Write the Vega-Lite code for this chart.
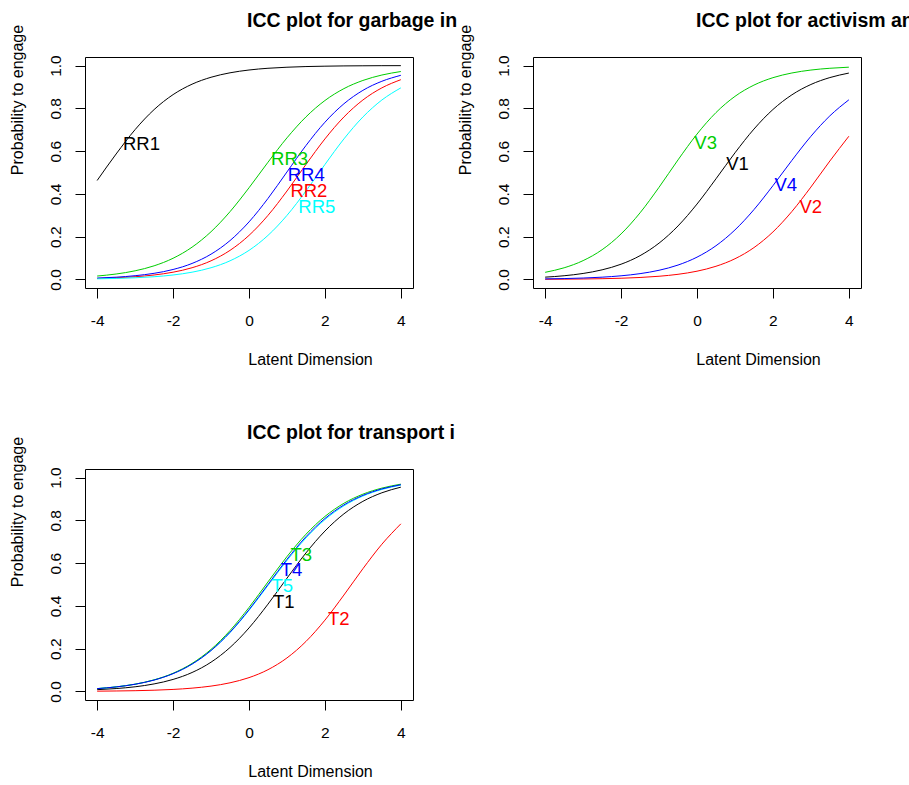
{
  "$schema": "https://vega.github.io/schema/vega-lite/v6.json",
  "padding": {"left": 8, "top": 10, "right": 0, "bottom": 0},
  "background": "white",
  "config": {
    "font": "Liberation Sans",
    "view": {"stroke": "black", "strokeWidth": 1},
    "axis": {"grid": false, "domain": false, "tickColor": "black", "tickSize": 10, "tickWidth": 1, "labelColor": "black", "labelFont": "Liberation Sans", "labelFontSize": 15.5, "titleFont": "Liberation Sans", "titleFontSize": 16, "titleFontWeight": "normal", "titleColor": "black", "labelOverlap": false, "labelFlush": false}
  },
  "datasets": {
    "curves": [
      {"pn":"g","id":"RR1","x":-4,"p":0.4626},{"pn":"g","id":"RR1","x":-3.5,"p":0.5866},{"pn":"g","id":"RR1","x":-3,"p":0.7006},{"pn":"g","id":"RR1","x":-2.5,"p":0.7941},{"pn":"g","id":"RR1","x":-2,"p":0.8641},{"pn":"g","id":"RR1","x":-1.5,"p":0.9129},{"pn":"g","id":"RR1","x":-1,"p":0.9453},{"pn":"g","id":"RR1","x":-0.5,"p":0.9661},{"pn":"g","id":"RR1","x":0,"p":0.9792},{"pn":"g","id":"RR1","x":0.5,"p":0.9873},{"pn":"g","id":"RR1","x":1,"p":0.9922},{"pn":"g","id":"RR1","x":1.5,"p":0.9953},{"pn":"g","id":"RR1","x":2,"p":0.9971},{"pn":"g","id":"RR1","x":2.5,"p":0.9983},{"pn":"g","id":"RR1","x":3,"p":0.9989},{"pn":"g","id":"RR1","x":3.5,"p":0.9994},{"pn":"g","id":"RR1","x":4,"p":0.9996},
      {"pn":"g","id":"RR2","x":-4,"p":0.0047},{"pn":"g","id":"RR2","x":-3.5,"p":0.0078},{"pn":"g","id":"RR2","x":-3,"p":0.0127},{"pn":"g","id":"RR2","x":-2.5,"p":0.0208},{"pn":"g","id":"RR2","x":-2,"p":0.0339},{"pn":"g","id":"RR2","x":-1.5,"p":0.0547},{"pn":"g","id":"RR2","x":-1,"p":0.0871},{"pn":"g","id":"RR2","x":-0.5,"p":0.1359},{"pn":"g","id":"RR2","x":0,"p":0.2059},{"pn":"g","id":"RR2","x":0.5,"p":0.2994},{"pn":"g","id":"RR2","x":1,"p":0.4134},{"pn":"g","id":"RR2","x":1.5,"p":0.5374},{"pn":"g","id":"RR2","x":2,"p":0.657},{"pn":"g","id":"RR2","x":2.5,"p":0.7595},{"pn":"g","id":"RR2","x":3,"p":0.8389},{"pn":"g","id":"RR2","x":3.5,"p":0.8957},{"pn":"g","id":"RR2","x":4,"p":0.934},
      {"pn":"g","id":"RR3","x":-4,"p":0.0159},{"pn":"g","id":"RR3","x":-3.5,"p":0.0254},{"pn":"g","id":"RR3","x":-3,"p":0.0404},{"pn":"g","id":"RR3","x":-2.5,"p":0.0637},{"pn":"g","id":"RR3","x":-2,"p":0.099},{"pn":"g","id":"RR3","x":-1.5,"p":0.1509},{"pn":"g","id":"RR3","x":-1,"p":0.2231},{"pn":"g","id":"RR3","x":-0.5,"p":0.3169},{"pn":"g","id":"RR3","x":0,"p":0.4285},{"pn":"g","id":"RR3","x":0.5,"p":0.5479},{"pn":"g","id":"RR3","x":1,"p":0.6619},{"pn":"g","id":"RR3","x":1.5,"p":0.7599},{"pn":"g","id":"RR3","x":2,"p":0.8365},{"pn":"g","id":"RR3","x":2.5,"p":0.8921},{"pn":"g","id":"RR3","x":3,"p":0.9303},{"pn":"g","id":"RR3","x":3.5,"p":0.9557},{"pn":"g","id":"RR3","x":4,"p":0.9721},
      {"pn":"g","id":"RR4","x":-4,"p":0.0064},{"pn":"g","id":"RR4","x":-3.5,"p":0.0106},{"pn":"g","id":"RR4","x":-3,"p":0.0175},{"pn":"g","id":"RR4","x":-2.5,"p":0.0286},{"pn":"g","id":"RR4","x":-2,"p":0.0465},{"pn":"g","id":"RR4","x":-1.5,"p":0.0748},{"pn":"g","id":"RR4","x":-1,"p":0.1182},{"pn":"g","id":"RR4","x":-0.5,"p":0.1817},{"pn":"g","id":"RR4","x":0,"p":0.2689},{"pn":"g","id":"RR4","x":0.5,"p":0.3787},{"pn":"g","id":"RR4","x":1,"p":0.5025},{"pn":"g","id":"RR4","x":1.5,"p":0.626},{"pn":"g","id":"RR4","x":2,"p":0.735},{"pn":"g","id":"RR4","x":2.5,"p":0.8213},{"pn":"g","id":"RR4","x":3,"p":0.884},{"pn":"g","id":"RR4","x":3.5,"p":0.9265},{"pn":"g","id":"RR4","x":4,"p":0.9544},
      {"pn":"g","id":"RR5","x":-4,"p":0.0029},{"pn":"g","id":"RR5","x":-3.5,"p":0.0047},{"pn":"g","id":"RR5","x":-3,"p":0.0078},{"pn":"g","id":"RR5","x":-2.5,"p":0.0127},{"pn":"g","id":"RR5","x":-2,"p":0.0208},{"pn":"g","id":"RR5","x":-1.5,"p":0.0339},{"pn":"g","id":"RR5","x":-1,"p":0.0547},{"pn":"g","id":"RR5","x":-0.5,"p":0.0871},{"pn":"g","id":"RR5","x":0,"p":0.1359},{"pn":"g","id":"RR5","x":0.5,"p":0.2059},{"pn":"g","id":"RR5","x":1,"p":0.2994},{"pn":"g","id":"RR5","x":1.5,"p":0.4134},{"pn":"g","id":"RR5","x":2,"p":0.5374},{"pn":"g","id":"RR5","x":2.5,"p":0.657},{"pn":"g","id":"RR5","x":3,"p":0.7595},{"pn":"g","id":"RR5","x":3.5,"p":0.8389},{"pn":"g","id":"RR5","x":4,"p":0.8957},
      {"pn":"a","id":"V1","x":-4,"p":0.0107},{"pn":"a","id":"V1","x":-3.5,"p":0.0173},{"pn":"a","id":"V1","x":-3,"p":0.028},{"pn":"a","id":"V1","x":-2.5,"p":0.0449},{"pn":"a","id":"V1","x":-2,"p":0.0712},{"pn":"a","id":"V1","x":-1.5,"p":0.1112},{"pn":"a","id":"V1","x":-1,"p":0.1697},{"pn":"a","id":"V1","x":-0.5,"p":0.2501},{"pn":"a","id":"V1","x":0,"p":0.3525},{"pn":"a","id":"V1","x":0.5,"p":0.4705},{"pn":"a","id":"V1","x":1,"p":0.5919},{"pn":"a","id":"V1","x":1.5,"p":0.703},{"pn":"a","id":"V1","x":2,"p":0.7945},{"pn":"a","id":"V1","x":2.5,"p":0.8632},{"pn":"a","id":"V1","x":3,"p":0.9115},{"pn":"a","id":"V1","x":3.5,"p":0.9438},{"pn":"a","id":"V1","x":4,"p":0.9649},
      {"pn":"a","id":"V2","x":-4,"p":0.0008},{"pn":"a","id":"V2","x":-3.5,"p":0.0013},{"pn":"a","id":"V2","x":-3,"p":0.0021},{"pn":"a","id":"V2","x":-2.5,"p":0.0035},{"pn":"a","id":"V2","x":-2,"p":0.0056},{"pn":"a","id":"V2","x":-1.5,"p":0.0092},{"pn":"a","id":"V2","x":-1,"p":0.0149},{"pn":"a","id":"V2","x":-0.5,"p":0.024},{"pn":"a","id":"V2","x":0,"p":0.0386},{"pn":"a","id":"V2","x":0.5,"p":0.0616},{"pn":"a","id":"V2","x":1,"p":0.0967},{"pn":"a","id":"V2","x":1.5,"p":0.1488},{"pn":"a","id":"V2","x":2,"p":0.222},{"pn":"a","id":"V2","x":2.5,"p":0.3178},{"pn":"a","id":"V2","x":3,"p":0.4319},{"pn":"a","id":"V2","x":3.5,"p":0.5538},{"pn":"a","id":"V2","x":4,"p":0.6695},
      {"pn":"a","id":"V3","x":-4,"p":0.0333},{"pn":"a","id":"V3","x":-3.5,"p":0.0545},{"pn":"a","id":"V3","x":-3,"p":0.088},{"pn":"a","id":"V3","x":-2.5,"p":0.139},{"pn":"a","id":"V3","x":-2,"p":0.2128},{"pn":"a","id":"V3","x":-1.5,"p":0.3115},{"pn":"a","id":"V3","x":-1,"p":0.4309},{"pn":"a","id":"V3","x":-0.5,"p":0.559},{"pn":"a","id":"V3","x":0,"p":0.6796},{"pn":"a","id":"V3","x":0.5,"p":0.7802},{"pn":"a","id":"V3","x":1,"p":0.8559},{"pn":"a","id":"V3","x":1.5,"p":0.9086},{"pn":"a","id":"V3","x":2,"p":0.9433},{"pn":"a","id":"V3","x":2.5,"p":0.9653},{"pn":"a","id":"V3","x":3,"p":0.979},{"pn":"a","id":"V3","x":3.5,"p":0.9873},{"pn":"a","id":"V3","x":4,"p":0.9924},
      {"pn":"a","id":"V4","x":-4,"p":0.0026},{"pn":"a","id":"V4","x":-3.5,"p":0.0041},{"pn":"a","id":"V4","x":-3,"p":0.0066},{"pn":"a","id":"V4","x":-2.5,"p":0.0106},{"pn":"a","id":"V4","x":-2,"p":0.017},{"pn":"a","id":"V4","x":-1.5,"p":0.0271},{"pn":"a","id":"V4","x":-1,"p":0.0429},{"pn":"a","id":"V4","x":-0.5,"p":0.0673},{"pn":"a","id":"V4","x":0,"p":0.1042},{"pn":"a","id":"V4","x":0.5,"p":0.1576},{"pn":"a","id":"V4","x":1,"p":0.2315},{"pn":"a","id":"V4","x":1.5,"p":0.3265},{"pn":"a","id":"V4","x":2,"p":0.4383},{"pn":"a","id":"V4","x":2.5,"p":0.5568},{"pn":"a","id":"V4","x":3,"p":0.6691},{"pn":"a","id":"V4","x":3.5,"p":0.7649},{"pn":"a","id":"V4","x":4,"p":0.8397},
      {"pn":"t","id":"T1","x":-4,"p":0.0083},{"pn":"t","id":"T1","x":-3.5,"p":0.0135},{"pn":"t","id":"T1","x":-3,"p":0.0218},{"pn":"t","id":"T1","x":-2.5,"p":0.0352},{"pn":"t","id":"T1","x":-2,"p":0.0562},{"pn":"t","id":"T1","x":-1.5,"p":0.0885},{"pn":"t","id":"T1","x":-1,"p":0.1368},{"pn":"t","id":"T1","x":-0.5,"p":0.2055},{"pn":"t","id":"T1","x":0,"p":0.2969},{"pn":"t","id":"T1","x":0.5,"p":0.4081},{"pn":"t","id":"T1","x":1,"p":0.5294},{"pn":"t","id":"T1","x":1.5,"p":0.6475},{"pn":"t","id":"T1","x":2,"p":0.7498},{"pn":"t","id":"T1","x":2.5,"p":0.8303},{"pn":"t","id":"T1","x":3,"p":0.8887},{"pn":"t","id":"T1","x":3.5,"p":0.9288},{"pn":"t","id":"T1","x":4,"p":0.9551},
      {"pn":"t","id":"T2","x":-4,"p":0.0013},{"pn":"t","id":"T2","x":-3.5,"p":0.0022},{"pn":"t","id":"T2","x":-3,"p":0.0035},{"pn":"t","id":"T2","x":-2.5,"p":0.0058},{"pn":"t","id":"T2","x":-2,"p":0.0094},{"pn":"t","id":"T2","x":-1.5,"p":0.0154},{"pn":"t","id":"T2","x":-1,"p":0.025},{"pn":"t","id":"T2","x":-0.5,"p":0.0404},{"pn":"t","id":"T2","x":0,"p":0.0646},{"pn":"t","id":"T2","x":0.5,"p":0.1017},{"pn":"t","id":"T2","x":1,"p":0.1567},{"pn":"t","id":"T2","x":1.5,"p":0.2336},{"pn":"t","id":"T2","x":2,"p":0.3333},{"pn":"t","id":"T2","x":2.5,"p":0.4507},{"pn":"t","id":"T2","x":3,"p":0.5737},{"pn":"t","id":"T2","x":3.5,"p":0.6882},{"pn":"t","id":"T2","x":4,"p":0.7836},
      {"pn":"t","id":"T5","x":-4,"p":0.0135},{"pn":"t","id":"T5","x":-3.5,"p":0.0215},{"pn":"t","id":"T5","x":-3,"p":0.0341},{"pn":"t","id":"T5","x":-2.5,"p":0.0537},{"pn":"t","id":"T5","x":-2,"p":0.0836},{"pn":"t","id":"T5","x":-1.5,"p":0.128},{"pn":"t","id":"T5","x":-1,"p":0.1909},{"pn":"t","id":"T5","x":-0.5,"p":0.2751},{"pn":"t","id":"T5","x":0,"p":0.3789},{"pn":"t","id":"T5","x":0.5,"p":0.4953},{"pn":"t","id":"T5","x":1,"p":0.612},{"pn":"t","id":"T5","x":1.5,"p":0.7173},{"pn":"t","id":"T5","x":2,"p":0.8032},{"pn":"t","id":"T5","x":2.5,"p":0.8677},{"pn":"t","id":"T5","x":3,"p":0.9134},{"pn":"t","id":"T5","x":3.5,"p":0.9443},{"pn":"t","id":"T5","x":4,"p":0.9646},
      {"pn":"t","id":"T3","x":-4,"p":0.0132},{"pn":"t","id":"T3","x":-3.5,"p":0.0212},{"pn":"t","id":"T3","x":-3,"p":0.034},{"pn":"t","id":"T3","x":-2.5,"p":0.0541},{"pn":"t","id":"T3","x":-2,"p":0.085},{"pn":"t","id":"T3","x":-1.5,"p":0.131},{"pn":"t","id":"T3","x":-1,"p":0.1967},{"pn":"t","id":"T3","x":-0.5,"p":0.2846},{"pn":"t","id":"T3","x":0,"p":0.3925},{"pn":"t","id":"T3","x":0.5,"p":0.5121},{"pn":"t","id":"T3","x":1,"p":0.6304},{"pn":"t","id":"T3","x":1.5,"p":0.7348},{"pn":"t","id":"T3","x":2,"p":0.8182},{"pn":"t","id":"T3","x":2.5,"p":0.8797},{"pn":"t","id":"T3","x":3,"p":0.9223},{"pn":"t","id":"T3","x":3.5,"p":0.9507},{"pn":"t","id":"T3","x":4,"p":0.9691},
      {"pn":"t","id":"T4","x":-4,"p":0.0131},{"pn":"t","id":"T4","x":-3.5,"p":0.0211},{"pn":"t","id":"T4","x":-3,"p":0.0336},{"pn":"t","id":"T4","x":-2.5,"p":0.0532},{"pn":"t","id":"T4","x":-2,"p":0.0832},{"pn":"t","id":"T4","x":-1.5,"p":0.1279},{"pn":"t","id":"T4","x":-1,"p":0.1915},{"pn":"t","id":"T4","x":-0.5,"p":0.2769},{"pn":"t","id":"T4","x":0,"p":0.3822},{"pn":"t","id":"T4","x":0.5,"p":0.5},{"pn":"t","id":"T4","x":1,"p":0.6178},{"pn":"t","id":"T4","x":1.5,"p":0.7231},{"pn":"t","id":"T4","x":2,"p":0.8085},{"pn":"t","id":"T4","x":2.5,"p":0.8721},{"pn":"t","id":"T4","x":3,"p":0.9168},{"pn":"t","id":"T4","x":3.5,"p":0.9468},{"pn":"t","id":"T4","x":4,"p":0.9664}
    ],
    "labels": [
      {"pn":"g","id":"RR1","x":-3.32,"p":0.635},
      {"pn":"g","id":"RR3","x":0.58,"p":0.563},
      {"pn":"g","id":"RR4","x":1.02,"p":0.487},
      {"pn":"g","id":"RR2","x":1.09,"p":0.415},
      {"pn":"g","id":"RR5","x":1.30,"p":0.34},
      {"pn":"a","id":"V3","x":-0.07,"p":0.638},
      {"pn":"a","id":"V1","x":0.77,"p":0.54},
      {"pn":"a","id":"V4","x":2.04,"p":0.44},
      {"pn":"a","id":"V2","x":2.70,"p":0.338},
      {"pn":"t","id":"T3","x":1.09,"p":0.64},
      {"pn":"t","id":"T4","x":0.835,"p":0.566},
      {"pn":"t","id":"T5","x":0.59,"p":0.492},
      {"pn":"t","id":"T1","x":0.63,"p":0.417},
      {"pn":"t","id":"T2","x":2.08,"p":0.341}
    ]
  },
  "bounds": "flush",
  "columns": 2,
  "spacing": {"row": 181, "column": 120},
  "concat": [
    {
      "width": 328, "height": 231,
      "title": {"text": "ICC plot for garbage in", "frame": "group", "anchor": "start", "dx": 162, "fontSize": 19.5, "fontWeight": "bold", "font": "Liberation Sans", "color": "black", "offset": -7},
      "layer": [
        {
          "data": {"name": "curves"},
          "transform": [{"filter": "datum.pn == 'g'"}],
          "mark": {"type": "line", "strokeWidth": 1, "interpolate": "monotone"},
          "encoding": {
            "x": {"field": "x", "type": "quantitative", "scale": {"domain": [-4.32, 4.32], "nice": false, "zero": false}, "axis": {"values": [-4, -2, 0, 2, 4], "labelExpr": "datum.value", "labelPadding": 15, "title": "Latent Dimension", "titleX": 225, "titleY": 71, "titleAlign": "center", "titleBaseline": "middle"}},
            "y": {"field": "p", "type": "quantitative", "scale": {"domain": [-0.04, 1.04], "nice": false, "zero": false}, "axis": {"values": [0, 0.2, 0.4, 0.6, 0.8, 1], "format": ".1f", "labelAngle": 270, "labelAlign": "center", "labelBaseline": "middle", "labelPadding": 19.5, "title": "Probability to engage", "titleX": -68, "titleY": 42.5, "titleAngle": 270, "titleAlign": "center", "titleBaseline": "middle"}},
            "color": {"field": "id", "type": "nominal", "legend": null, "scale": {"domain": ["RR1","RR2","RR3","RR4","RR5","V1","V2","V3","V4","T1","T2","T3","T4","T5"], "range": ["#000000","#FF0000","#00CD00","#0000FF","#00FFFF","#000000","#FF0000","#00CD00","#0000FF","#000000","#FF0000","#00CD00","#0000FF","#00FFFF"]}}
          }
        },
        {
          "data": {"name": "labels"},
          "transform": [{"filter": "datum.pn == 'g'"}],
          "mark": {"type": "text", "align": "left", "baseline": "middle", "fontSize": 18.5, "font": "Liberation Sans"},
          "encoding": {
            "x": {"field": "x", "type": "quantitative"},
            "y": {"field": "p", "type": "quantitative"},
            "text": {"field": "id"},
            "color": {"field": "id", "type": "nominal", "legend": null}
          }
        }
      ]
    },
    {
      "width": 328, "height": 231,
      "title": {"text": "ICC plot for activism an", "frame": "group", "anchor": "start", "dx": 163, "fontSize": 19.5, "fontWeight": "bold", "font": "Liberation Sans", "color": "black", "offset": -7},
      "layer": [
        {
          "data": {"name": "curves"},
          "transform": [{"filter": "datum.pn == 'a'"}],
          "mark": {"type": "line", "strokeWidth": 1, "interpolate": "monotone"},
          "encoding": {
            "x": {"field": "x", "type": "quantitative", "scale": {"domain": [-4.32, 4.32], "nice": false, "zero": false}, "axis": {"values": [-4, -2, 0, 2, 4], "labelExpr": "datum.value", "labelPadding": 15, "title": "Latent Dimension", "titleX": 225, "titleY": 71, "titleAlign": "center", "titleBaseline": "middle"}},
            "y": {"field": "p", "type": "quantitative", "scale": {"domain": [-0.04, 1.04], "nice": false, "zero": false}, "axis": {"values": [0, 0.2, 0.4, 0.6, 0.8, 1], "format": ".1f", "labelAngle": 270, "labelAlign": "center", "labelBaseline": "middle", "labelPadding": 19.5, "title": "Probability to engage", "titleX": -68, "titleY": 42.5, "titleAngle": 270, "titleAlign": "center", "titleBaseline": "middle"}},
            "color": {"field": "id", "type": "nominal", "legend": null, "scale": {"domain": ["RR1","RR2","RR3","RR4","RR5","V1","V2","V3","V4","T1","T2","T3","T4","T5"], "range": ["#000000","#FF0000","#00CD00","#0000FF","#00FFFF","#000000","#FF0000","#00CD00","#0000FF","#000000","#FF0000","#00CD00","#0000FF","#00FFFF"]}}
          }
        },
        {
          "data": {"name": "labels"},
          "transform": [{"filter": "datum.pn == 'a'"}],
          "mark": {"type": "text", "align": "left", "baseline": "middle", "fontSize": 18.5, "font": "Liberation Sans"},
          "encoding": {
            "x": {"field": "x", "type": "quantitative"},
            "y": {"field": "p", "type": "quantitative"},
            "text": {"field": "id"},
            "color": {"field": "id", "type": "nominal", "legend": null}
          }
        }
      ]
    },
    {
      "width": 328, "height": 231,
      "title": {"text": "ICC plot for transport i", "frame": "group", "anchor": "start", "dx": 162, "fontSize": 19.5, "fontWeight": "bold", "font": "Liberation Sans", "color": "black", "offset": -7},
      "layer": [
        {
          "data": {"name": "curves"},
          "transform": [{"filter": "datum.pn == 't'"}],
          "mark": {"type": "line", "strokeWidth": 1, "interpolate": "monotone"},
          "encoding": {
            "x": {"field": "x", "type": "quantitative", "scale": {"domain": [-4.32, 4.32], "nice": false, "zero": false}, "axis": {"values": [-4, -2, 0, 2, 4], "labelExpr": "datum.value", "labelPadding": 15, "title": "Latent Dimension", "titleX": 225, "titleY": 71, "titleAlign": "center", "titleBaseline": "middle"}},
            "y": {"field": "p", "type": "quantitative", "scale": {"domain": [-0.04, 1.04], "nice": false, "zero": false}, "axis": {"values": [0, 0.2, 0.4, 0.6, 0.8, 1], "format": ".1f", "labelAngle": 270, "labelAlign": "center", "labelBaseline": "middle", "labelPadding": 19.5, "title": "Probability to engage", "titleX": -68, "titleY": 42.5, "titleAngle": 270, "titleAlign": "center", "titleBaseline": "middle"}},
            "color": {"field": "id", "type": "nominal", "legend": null, "scale": {"domain": ["RR1","RR2","RR3","RR4","RR5","V1","V2","V3","V4","T1","T2","T3","T4","T5"], "range": ["#000000","#FF0000","#00CD00","#0000FF","#00FFFF","#000000","#FF0000","#00CD00","#0000FF","#000000","#FF0000","#00CD00","#0000FF","#00FFFF"]}}
          }
        },
        {
          "data": {"name": "labels"},
          "transform": [{"filter": "datum.pn == 't'"}],
          "mark": {"type": "text", "align": "left", "baseline": "middle", "fontSize": 18.5, "font": "Liberation Sans"},
          "encoding": {
            "x": {"field": "x", "type": "quantitative"},
            "y": {"field": "p", "type": "quantitative"},
            "text": {"field": "id"},
            "color": {"field": "id", "type": "nominal", "legend": null}
          }
        }
      ]
    }
  ]
}
